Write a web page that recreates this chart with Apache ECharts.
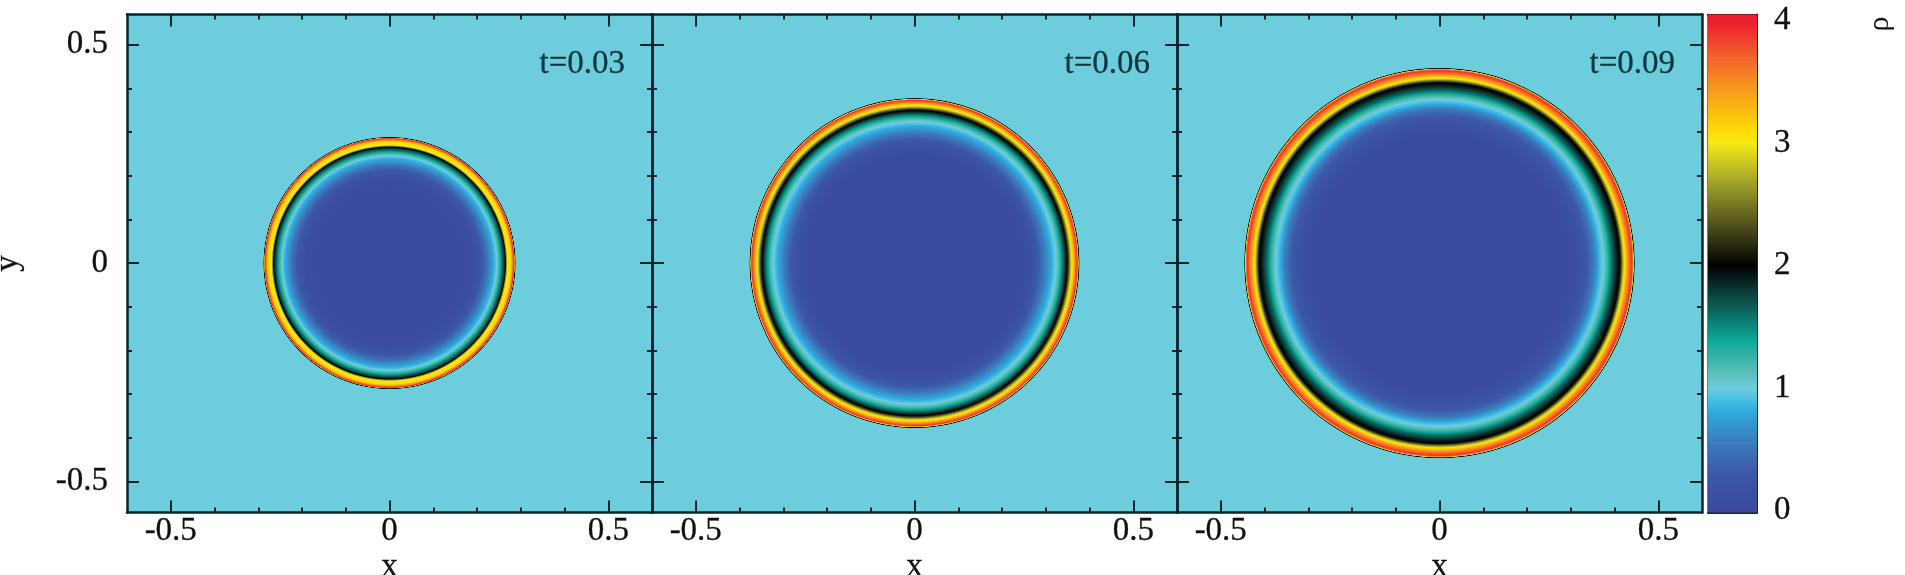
<!DOCTYPE html>
<html>
<head>
<meta charset="utf-8">
<style>html,body{margin:0;padding:0;background:#fff}#c{width:1905px;height:575px}</style>
<script src="https://cdn.jsdelivr.net/npm/echarts@6/dist/echarts.min.js"></script>
</head>
<body>
<div id="c"></div>
<script>
// Colour table
var cmapRho = [-0.02, 0, 0.3, 0.55, 0.8, 0.9, 1.0, 1.15, 1.4, 1.6, 1.8, 2.0, 2.3, 2.7, 3.0, 3.1, 3.4, 3.7, 4.0, 4.06];
var cmapHex = ['#3a4a9f', '#3a4a9f', '#3c57a8', '#3b79bb', '#2fa9dc', '#45bde6', '#6ecddd', '#55bcb4', '#0aa898', '#0a6f66', '#0a3934', '#000000', '#48481c', '#a6a828', '#f4e916', '#fddc04', '#f9a11b', '#f2632a', '#ed1c2e', '#ed1c2e'];
var ambientRho = 1.0;

// Radial density profiles: radius and density
var panelTimes = ['t=0.03', 't=0.06', 't=0.09'];
var radiusT03 = [0.001, 0.150, 0.190, 0.200, 0.210, 0.220, 0.230, 0.240, 0.245, 0.250, 0.255, 0.260, 0.265, 0.268, 0.270, 0.277, 0.281, 0.284, 0.2855, 0.287, 0.289];
var rhoT03    = [0.02,  0.03,  0.08,  0.15,  0.28,  0.45,  0.65,  0.85,  1.00,  1.20,  1.45,  1.70,  2.00,  2.70,  3.00,  3.10,  3.50,  3.90,  3.70,   2.00,  1.00];
var radiusT06 = [0.001, 0.240, 0.254, 0.270, 0.285, 0.300, 0.315, 0.320, 0.325, 0.330, 0.335, 0.340, 0.345, 0.349, 0.353, 0.357, 0.360, 0.363, 0.366, 0.369, 0.372, 0.374, 0.376, 0.378];
var rhoT06    = [0.02,  0.03,  0.06,  0.15,  0.35,  0.60,  0.85,  0.95,  1.05,  1.20,  1.40,  1.60,  1.85,  2.00,  2.35,  2.80,  3.05,  3.20,  3.45,  3.70,  3.90,  3.40,  2.00,  1.00];
var radiusT09 = [0.001, 0.280, 0.300, 0.320, 0.340, 0.355, 0.365, 0.371, 0.376, 0.382, 0.388, 0.394, 0.400, 0.406, 0.412, 0.416, 0.420, 0.424, 0.428, 0.432, 0.436, 0.440, 0.443, 0.445, 0.447];
var rhoT09    = [0.02,  0.03,  0.06,  0.15,  0.35,  0.60,  0.85,  0.95,  1.05,  1.20,  1.40,  1.60,  1.75,  1.90,  2.00,  2.35,  2.80,  3.10,  3.35,  3.55,  3.75,  3.90,  3.40,  2.00,  1.00];
var radii = [radiusT03, radiusT06, radiusT09];
var rhos = [rhoT03, rhoT06, rhoT09];

// Tick values
var majorTicks = [-0.5, 0, 0.5];
var minorTicks = [-0.4, -0.3, -0.2, -0.1, 0.1, 0.2, 0.3, 0.4];
var barMajorTicks = [0, 1, 2, 3, 4];
var barMinorTicks = [0.2, 0.4, 0.6, 0.8, 1.2, 1.4, 1.6, 1.8, 2.2, 2.4, 2.6, 2.8, 3.2, 3.4, 3.6, 3.8];

var INK = '#0a2430', FONT = '"Liberation Serif", serif', FS = 33, TEXT = '#111';

function hexRgb(h) { return [1, 3, 5].map(function (i) { return parseInt(h.substr(i, 2), 16); }); }
function colorOf(v) {
  if (v <= cmapRho[0]) return cmapHex[0];
  for (var i = 1; i < cmapRho.length; i++) {
    if (v <= cmapRho[i]) {
      var t = (v - cmapRho[i - 1]) / (cmapRho[i] - cmapRho[i - 1]);
      var a = hexRgb(cmapHex[i - 1]), b = hexRgb(cmapHex[i]);
      return 'rgb(' + a.map(function (x, k) { return Math.round(x + (b[k] - x) * t); }).join(',') + ')';
    }
  }
  return cmapHex[cmapHex.length - 1];
}
// Colour stops between two densities, following the colour table
function ringStops(r0, v0, r1, v1) {
  var out = [{ offset: r0 / r1, color: colorOf(v0) }];
  var lo = Math.min(v0, v1), hi = Math.max(v0, v1);
  var knots = cmapRho.filter(function (k) { return k > lo && k < hi; });
  if (v1 < v0) knots.reverse();
  knots.forEach(function (k) {
    var r = r0 + (r1 - r0) * (k - v0) / (v1 - v0);
    out.push({ offset: r / r1, color: colorOf(k) });
  });
  out.push({ offset: 1, color: colorOf(v1) });
  return out;
}

function axis(kind, gridIndex, position, ticks, len, extra) {
  var base = {
    type: 'value', gridIndex: gridIndex, position: position,
    splitLine: { show: false },
    axisLine: { show: false, onZero: false },
    axisTick: { show: true, inside: true, length: len, customValues: ticks, lineStyle: { color: INK, width: 2 } },
    axisLabel: { show: false }
  };
  return Object.assign(base, extra);
}
var xAxes = [], yAxes = [], grids = [], series = [];
var lineOn = { show: true, onZero: false, lineStyle: { color: INK, width: 2.5 } };
var labelStyle = { show: true, fontFamily: FONT, fontSize: FS, color: TEXT, customValues: majorTicks, textBorderColor: TEXT, textBorderWidth: 0.3 };
var nameStyle = { fontFamily: FONT, fontSize: FS, color: TEXT, textBorderColor: TEXT, textBorderWidth: 0.3 };

var GL = [127, 652, 1177], GW = 525, GT = 14.5, GH = 498;
GL.forEach(function (left, p) {
  grids.push({ left: left, top: GT, width: GW, height: GH, show: true, backgroundColor: colorOf(ambientRho), borderWidth: 0, z: 0, outerBoundsMode: 'none', containLabel: false });
  var xr = { min: -0.6, max: 0.6 }, yr = { min: -0.571, max: 0.569 };
  var xBase = xAxes.length, yBase = yAxes.length;
  xAxes.push(axis('x', p, 'bottom', majorTicks, 12, Object.assign({
    axisLine: lineOn,
    axisLabel: Object.assign({ margin: 2 }, labelStyle),
    name: 'x', nameLocation: 'middle', nameGap: 38, nameMoveOverlap: false,
    nameTextStyle: nameStyle
  }, xr)));
  xAxes.push(axis('x', p, 'bottom', minorTicks, 5, xr));
  xAxes.push(axis('x', p, 'top', majorTicks, 12, Object.assign({ axisLine: lineOn }, xr)));
  xAxes.push(axis('x', p, 'top', minorTicks, 5, xr));
  var leftExtra = { axisLine: lineOn };
  if (p === 0) {
    leftExtra.axisLabel = Object.assign({ margin: 19, padding: [0, 0, 10, 0] }, labelStyle);
    leftExtra.name = 'y';
    leftExtra.nameLocation = 'middle';
    leftExtra.nameGap = 102;
    leftExtra.nameMoveOverlap = false;
    leftExtra.nameTextStyle = nameStyle;
  }
  yAxes.push(axis('y', p, 'left', majorTicks, 12, Object.assign(leftExtra, yr)));
  yAxes.push(axis('y', p, 'left', minorTicks, 5, yr));
  yAxes.push(axis('y', p, 'right', majorTicks, 12, Object.assign({ axisLine: lineOn }, yr)));
  yAxes.push(axis('y', p, 'right', minorTicks, 5, yr));

  // Discs from outermost to innermost, one per profile sample
  var R = radii[p], V = rhos[p], rows = [];
  for (var i = R.length - 1; i >= 0; i--) {
    rows.push([R[i], V[i], i > 0 ? R[i - 1] : 0, i > 0 ? V[i - 1] : V[0]]);
  }
  series.push({
    type: 'custom', xAxisIndex: xBase, yAxisIndex: yBase, coordinateSystem: 'cartesian2d',
    silent: true, clip: true, animation: false, z: 1,
    data: rows,
    dimensions: ['r', 'rho', 'rInner', 'rhoInner'],
    encode: {},
    renderItem: function (params, api) {
      var c = api.coord([0, 0]);
      var rPx = api.size([api.value(0), 0])[0];
      return {
        type: 'circle',
        shape: { cx: c[0], cy: c[1], r: rPx },
        style: {
          fill: new echarts.graphic.RadialGradient(0.5, 0.5, 0.5,
            ringStops(api.value(2), api.value(3), api.value(0), api.value(1)))
        }
      };
    }
  });
});

// Colour bar
var barGrid = grids.length;
grids.push({ left: 1708, top: GT, width: 49, height: GH, show: false, outerBoundsMode: 'none', containLabel: false });
var barY = { min: -0.016, max: 4.049 };
var barX = xAxes.length, barYi = yAxes.length;
var barLine = { show: true, onZero: false, lineStyle: { color: '#222', width: 2 } };
xAxes.push({ type: 'value', gridIndex: barGrid, min: 0, max: 1, position: 'bottom', splitLine: { show: false }, axisTick: { show: false }, axisLabel: { show: false }, axisLine: barLine });
xAxes.push({ type: 'value', gridIndex: barGrid, min: 0, max: 1, position: 'top', splitLine: { show: false }, axisTick: { show: false }, axisLabel: { show: false }, axisLine: barLine });
yAxes.push(axis('y', barGrid, 'left', barMajorTicks, 12, Object.assign({ axisLine: { show: true, onZero: false, lineStyle: { color: '#777', width: 2 } } }, barY)));
yAxes.push(axis('y', barGrid, 'left', barMinorTicks, 5, barY));
yAxes.push(axis('y', barGrid, 'right', barMajorTicks, 12, Object.assign({
  axisLine: barLine,
  axisLabel: { show: true, margin: 17, padding: [0, 0, 10, 0], fontFamily: FONT, fontSize: FS, color: TEXT, customValues: barMajorTicks, textBorderColor: TEXT, textBorderWidth: 0.3 }
}, barY)));
yAxes.push(axis('y', barGrid, 'right', barMinorTicks, 5, barY));
series.push({
  type: 'custom', xAxisIndex: barX, yAxisIndex: barYi, coordinateSystem: 'cartesian2d',
  silent: true, clip: true, animation: false, z: 1,
  data: cmapRho.slice(1).map(function (v, i) { return [cmapRho[i], v]; }),
  dimensions: ['from', 'to'],
  encode: {},
  renderItem: function (params, api) {
    var a = api.coord([0, api.value(0)]), b = api.coord([1, api.value(1)]);
    return {
      type: 'rect',
      shape: { x: a[0], y: b[1], width: b[0] - a[0], height: a[1] - b[1] + 0.6 },
      style: {
        fill: new echarts.graphic.LinearGradient(0, 1, 0, 0, [
          { offset: 0, color: colorOf(api.value(0)) },
          { offset: 1, color: colorOf(api.value(1)) }
        ])
      }
    };
  }
});

var tRight = [625, 1150, 1675];
var graphics = panelTimes.map(function (t, i) {
  return {
    type: 'text', x: tRight[i], y: 64, z: 20,
    style: { text: t, fontFamily: FONT, fontSize: FS, fill: '#073840', align: 'right', verticalAlign: 'middle', stroke: '#073840', lineWidth: 0.3 }
  };
});
graphics.push({
  type: 'text', x: 1880, y: 24, rotation: Math.PI / 2, z: 20,
  style: { text: 'ρ', fontFamily: FONT, fontSize: 30, fill: TEXT, align: 'center', verticalAlign: 'middle' }
});

var chart = echarts.init(document.getElementById('c'), null, { renderer: 'canvas' });
chart.setOption({
  animation: false,
  backgroundColor: '#ffffff',
  grid: grids,
  xAxis: xAxes,
  yAxis: yAxes,
  series: series,
  graphic: graphics
});
</script>
</body>
</html>
